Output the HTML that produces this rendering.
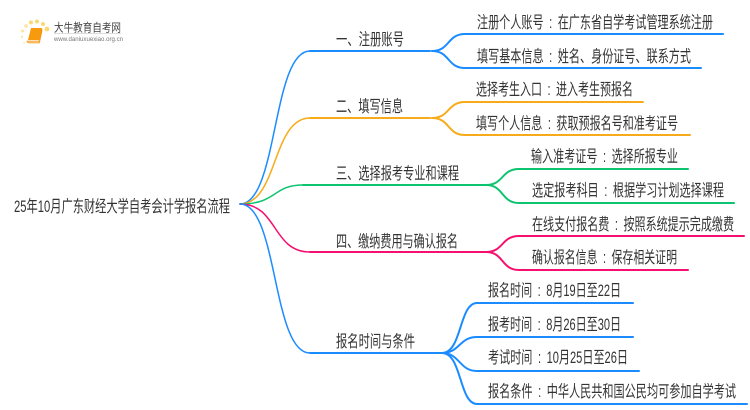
<!DOCTYPE html>
<html lang="zh">
<head>
<meta charset="utf-8">
<style>
html,body{margin:0;padding:0;background:#fff;width:750px;height:410px;overflow:hidden}
svg{display:block}
text{font-family:"Liberation Sans","Noto Sans CJK SC",sans-serif;font-size:16.5px;fill:#333}
path{fill:none;stroke-linecap:round}
.b{stroke:#1a8cff}.o{stroke:#f7ab1a}.g{stroke:#0cc46f}.p{stroke:#f50f6e}
</style>
</head>
<body>
<svg width="750" height="410" viewBox="0 0 750 410" xmlns="http://www.w3.org/2000/svg">
<!-- logo -->
<g>
<circle cx="47" cy="29" r="2.4" fill="#fcd873"/><circle cx="43" cy="24" r="2" fill="#fcd873"/><circle cx="37" cy="21.5" r="2" fill="#fcd873"/><circle cx="31" cy="22.5" r="2" fill="#fcd873"/><circle cx="26" cy="26" r="1.7" fill="#fde29a"/><circle cx="22.500" cy="31" r="1.500" fill="#fde29a"/><circle cx="22" cy="37" r="1.200" fill="#fde9b5"/><circle cx="24" cy="43" r="1" fill="#fdeec8"/>
<path d="M31 28H42L39 40H28Z" style="fill:#f79a0e;stroke:none"/>
<path d="M27 41H39L42 29V31L39.500 43H29Q26.500 42 27 41Z" style="fill:#fbc77a;stroke:#f08a00;stroke-width:.6"/>
<text x="54" y="31.500" textLength="67" lengthAdjust="spacingAndGlyphs" style="font-size:11.500px;fill:#444">大牛教育自考网</text>
<rect x="54" y="33" width="67" height="1" fill="#ddd"/>
<text x="54" y="41" textLength="69" lengthAdjust="spacingAndGlyphs" style="font-size:6.500px;fill:#777">www.daniuxuexiao.org.cn</text>
</g>
<!-- root connectors -->
<g stroke-width="1.500">
<path class="b" d="M240 204C278 204 272 51 310 51"/>
<path class="o" d="M240 204C278 204 272 118 310 118"/>
<path class="g" d="M240 204C278 204 272 185 303 185"/>
<path class="p" d="M240 204C278 204 272 252 310 252"/>
<path class="b" d="M240 204C278 204 272 353 310 353"/>
</g>
<!-- level 1 -->
<g stroke-width="2">
<path class="b" d="M310 51H430"/>
<path class="o" d="M310 118H430"/>
<path class="g" d="M303 185H486"/>
<path class="p" d="M310 252H486"/>
<path class="b" d="M310 353H442"/>
</g>
<!-- level 2 -->
<g stroke-width="2">
<path class="b" d="M432 51C450 51 447 34 465 34H723"/>
<path class="b" d="M432 51C450 51 447 68 465 68H701"/>
<path class="o" d="M432 118C450 118 447 102 465 102H643"/>
<path class="o" d="M432 118C450 118 447 135 465 135H690"/>
<path class="g" d="M486 185C504 185 501 169 519 169H688"/>
<path class="g" d="M486 185C504 185 501 203 519 203H734"/>
<path class="p" d="M486 252C504 252 501 236 519 236H744"/>
<path class="p" d="M486 252C504 252 501 270 519 270H688"/>
<path class="b" d="M442 353C462 353 459 303 477 303H633"/>
<path class="b" d="M442 353C460 353 459 337 477 337H633"/>
<path class="b" d="M442 353C460 353 459 371 477 371H639"/>
<path class="b" d="M442 353C462 353 459 404 477 404H747"/>
</g>
<!-- labels -->
<text x="14" y="212" textLength="216" lengthAdjust="spacingAndGlyphs">25年10月广东财经大学自考会计学报名流程</text>
<text x="336" y="45" textLength="68" lengthAdjust="spacingAndGlyphs">一、注册账号</text>
<text x="336" y="112" textLength="67" lengthAdjust="spacingAndGlyphs">二、填写信息</text>
<text x="336" y="179" textLength="123" lengthAdjust="spacingAndGlyphs">三、选择报考专业和课程</text>
<text x="336" y="247" textLength="122" lengthAdjust="spacingAndGlyphs">四、缴纳费用与确认报名</text>
<text x="336" y="347" textLength="79" lengthAdjust="spacingAndGlyphs">报名时间与条件</text>
<text x="477" y="28" textLength="236" lengthAdjust="spacingAndGlyphs">注册个人账号&#8194;:&#8194;在广东省自学考试管理系统注册</text>
<text x="477" y="62" textLength="214" lengthAdjust="spacingAndGlyphs">填写基本信息&#8194;:&#8194;姓名、身份证号、联系方式</text>
<text x="476" y="95" textLength="157" lengthAdjust="spacingAndGlyphs">选择考生入口&#8194;:&#8194;进入考生预报名</text>
<text x="476" y="129" textLength="202" lengthAdjust="spacingAndGlyphs">填写个人信息&#8194;:&#8194;获取预报名号和准考证号</text>
<text x="531" y="162" textLength="147" lengthAdjust="spacingAndGlyphs">输入准考证号&#8194;:&#8194;选择所报专业</text>
<text x="532" y="196" textLength="192" lengthAdjust="spacingAndGlyphs">选定报考科目&#8194;:&#8194;根据学习计划选择课程</text>
<text x="532" y="230" textLength="202" lengthAdjust="spacingAndGlyphs">在线支付报名费&#8194;:&#8194;按照系统提示完成缴费</text>
<text x="532" y="263" textLength="145" lengthAdjust="spacingAndGlyphs">确认报名信息&#8194;:&#8194;保存相关证明</text>
<text x="488" y="296" textLength="133" lengthAdjust="spacingAndGlyphs">报名时间&#8194;:&#8194;8月19日至22日</text>
<text x="488" y="330" textLength="133" lengthAdjust="spacingAndGlyphs">报考时间&#8194;:&#8194;8月26日至30日</text>
<text x="488" y="363" textLength="140" lengthAdjust="spacingAndGlyphs">考试时间&#8194;:&#8194;10月25日至26日</text>
<text x="488" y="397" textLength="248" lengthAdjust="spacingAndGlyphs">报名条件&#8194;:&#8194;中华人民共和国公民均可参加自学考试</text>
</svg>
</body>
</html>
